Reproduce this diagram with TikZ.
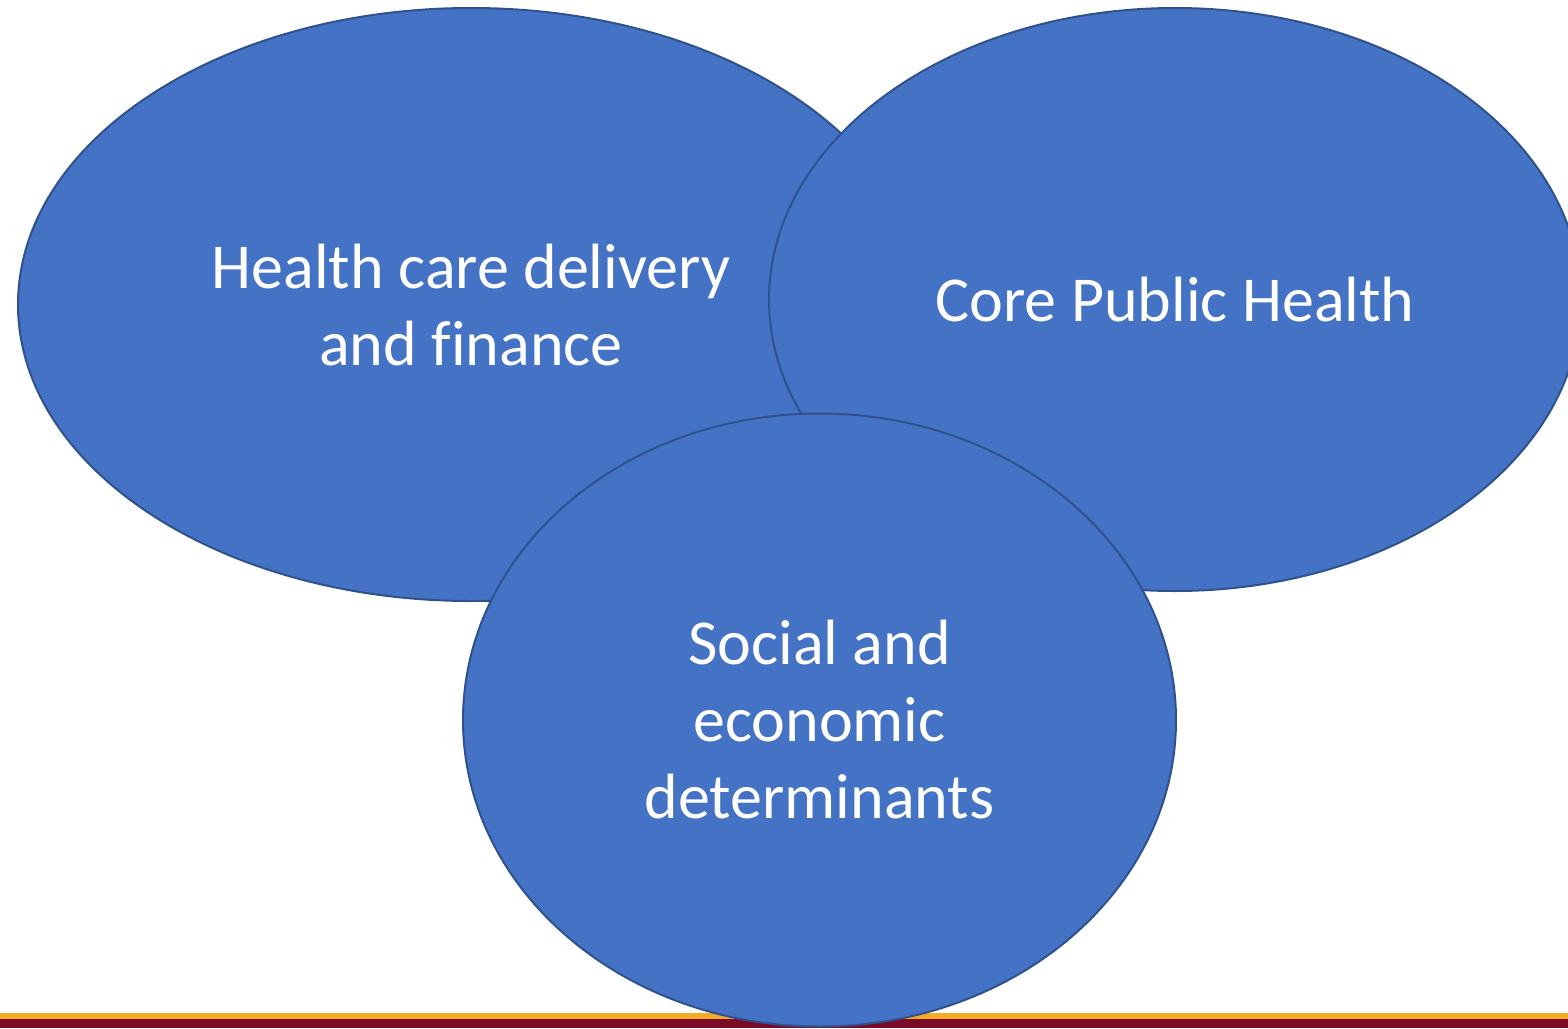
\documentclass[tikz,border=0pt]{standalone}
\usepackage{fontspec}
\setmainfont[Ligatures=NoCommon]{Carlito}
\definecolor{blobfill}{HTML}{4472C4}
\definecolor{blobline}{HTML}{2F528F}
\definecolor{gold}{HTML}{F2AB24}
\definecolor{maroon}{HTML}{7A0A28}
\begin{document}
\begin{tikzpicture}[x=1pt,y=-1pt,
  blob/.style={fill=blobfill,draw=blobline,line width=2pt},
  lbl/.style={text=white,font=\fontsize{64}{77}\selectfont,align=center}]
\useasboundingbox (0,0) rectangle (1568,1028);
\fill[gold] (0,1013) rectangle (1568,1019);
\fill[maroon] (0,1019) rectangle (1568,1028);
\draw[blob] (471,304.5) ellipse [x radius=453, y radius=296.5];
\draw[blob] (1175,299.5) ellipse [x radius=406, y radius=291.5];
\draw[blob] (819.5,720) ellipse [x radius=356.5, y radius=306.5];
\node[lbl] (hc) at (471,305) {Health care delivery\\and finance};
\node[lbl] (cph) at (1175,300) {Core Public Health};
\node[lbl] (sed) at (819.5,720) {Social and\\economic\\determinants};
\end{tikzpicture}
\end{document}
